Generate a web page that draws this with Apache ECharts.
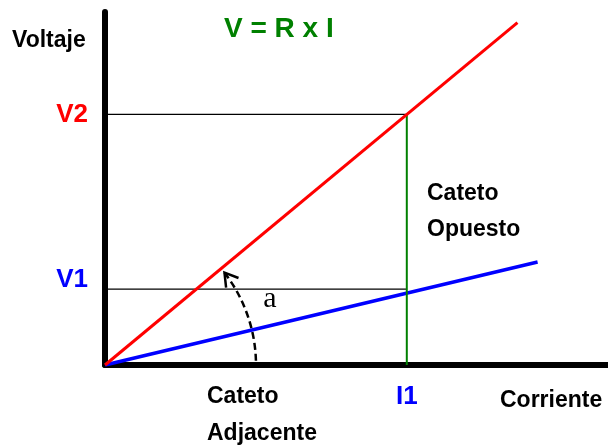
<!DOCTYPE html>
<html>
<head>
<meta charset="utf-8">
<script src="https://cdn.jsdelivr.net/npm/echarts@6/dist/echarts.min.js"></script>
<style>
  html, body { margin: 0; padding: 0; background: #fff; }
  #chart { width: 608px; height: 446px; }
</style>
</head>
<body>
<div id="chart"></div>
<script>
// valores (ejes 0..100)
const currentLabels = ['I1'];
const currentValues = [60];
const voltageLabels = ['V1', 'V2'];
const voltageValues = [21.5, 71];
const redX = [0, 82];
const redY = [0, 97];
const blueX = [0, 86];
const blueY = [0, 29.2];

const FONT = '"Liberation Sans", Arial, sans-serif';
const myChart = echarts.init(document.getElementById('chart'));

const pairs = (xs, ys) => xs.map((x, i) => [x, ys[i]]);
const I1 = currentValues[0];
const V1 = voltageValues[0];
const V2 = voltageValues[1];

const lineSeries = (data, color, width) => ({
  type: 'line',
  data: data,
  symbol: 'none',
  silent: true,
  animation: false,
  lineStyle: { color: color, width: width },
});

myChart.setOption({
  animation: false,
  grid: { left: 105, right: 0, top: 12, bottom: 81, containLabel: false, outerBoundsMode: 'none' },
  xAxis: {
    type: 'value',
    min: 0,
    max: 100,
    splitLine: { show: false },
    axisTick: { show: false },
    axisLine: { lineStyle: { color: '#000', width: 6 } },
    axisLabel: {
      customValues: currentValues,
      margin: 19,
      formatter: (v) => currentLabels[currentValues.indexOf(v)] || '',
      color: '#0000ff',
      fontFamily: FONT,
      fontWeight: 'bold',
      fontSize: 26,
    },
  },
  yAxis: {
    type: 'value',
    min: 0,
    max: 100,
    splitLine: { show: false },
    axisTick: { show: false },
    axisLine: { lineStyle: { color: '#000', width: 6, cap: 'round' } },
    axisLabel: {
      customValues: voltageValues,
      margin: 17,
      formatter: (v) => {
        const name = voltageLabels[voltageValues.indexOf(v)];
        return name ? '{' + name + '|' + name + '}' : '';
      },
      rich: {
        V1: { color: '#0000ff', fontFamily: FONT, fontWeight: 'bold', fontSize: 26, padding: [0, 0, 18, 0] },
        V2: { color: '#ff0000', fontFamily: FONT, fontWeight: 'bold', fontSize: 26 },
      },
    },
  },
  series: [
    lineSeries([[0, V2], [I1, V2]], '#000', 1.4),
    lineSeries([[0, V1], [I1, V1]], '#000', 1.4),
    lineSeries(pairs(blueX, blueY), '#0000ff', 3.5),
    lineSeries([[I1, 0], [I1, V2]], '#008000', 2),
    lineSeries(pairs(redX, redY), '#ff0000', 3),
  ],
});

// arco del angulo "a" entre la recta azul (eje) y la roja
const o = myChart.convertToPixel({ gridIndex: 0 }, [0, 0]);
const redEnd = myChart.convertToPixel({ gridIndex: 0 }, [redX[1], redY[1]]);
const theta = Math.atan2(o[1] - redEnd[1], redEnd[0] - o[0]) - 0.035;
const r = 151;
const tip = [o[0] + r * Math.cos(theta), o[1] - r * Math.sin(theta)];
const back = Math.atan2(Math.cos(theta), Math.sin(theta));
const arm = (da) => [tip[0] + 15 * Math.cos(back + da), tip[1] + 15 * Math.sin(back + da)];

const txt = (text, x, y, size, color, align) => ({
  type: 'text',
  silent: true,
  style: {
    text: text, x: x, y: y,
    font: 'bold ' + size + 'px ' + FONT,
    fill: color,
    textAlign: align || 'left',
    textVerticalAlign: 'middle',
  },
});

myChart.setOption({
  graphic: [
    txt('Voltaje', 12, 41, 23, '#000'),
    txt('V = R x I', 224, 29, 28, '#008000'),
    txt('Cateto', 427, 194, 23, '#000'),
    txt('Opuesto', 427, 230, 23, '#000'),
    txt('Cateto', 207, 397, 23, '#000'),
    txt('Adjacente', 207, 434, 23, '#000'),
    txt('Corriente', 500, 401, 23, '#000'),
    {
      type: 'text',
      silent: true,
      style: {
        text: 'a', x: 270, y: 299,
        font: '30px "Liberation Serif", serif',
        fill: '#000', textAlign: 'center', textVerticalAlign: 'middle',
      },
    },
    {
      type: 'arc',
      silent: true,
      shape: { cx: o[0], cy: o[1], r: r, startAngle: -theta, endAngle: 0, clockwise: true },
      style: { stroke: '#000', fill: null, lineWidth: 2.5, lineDash: [7, 4] },
    },
    {
      type: 'polyline',
      silent: true,
      shape: { points: [arm(0.55), tip, arm(-0.55)] },
      style: { stroke: '#000', fill: null, lineWidth: 2.5 },
    },
  ],
});
</script>
</body>
</html>
